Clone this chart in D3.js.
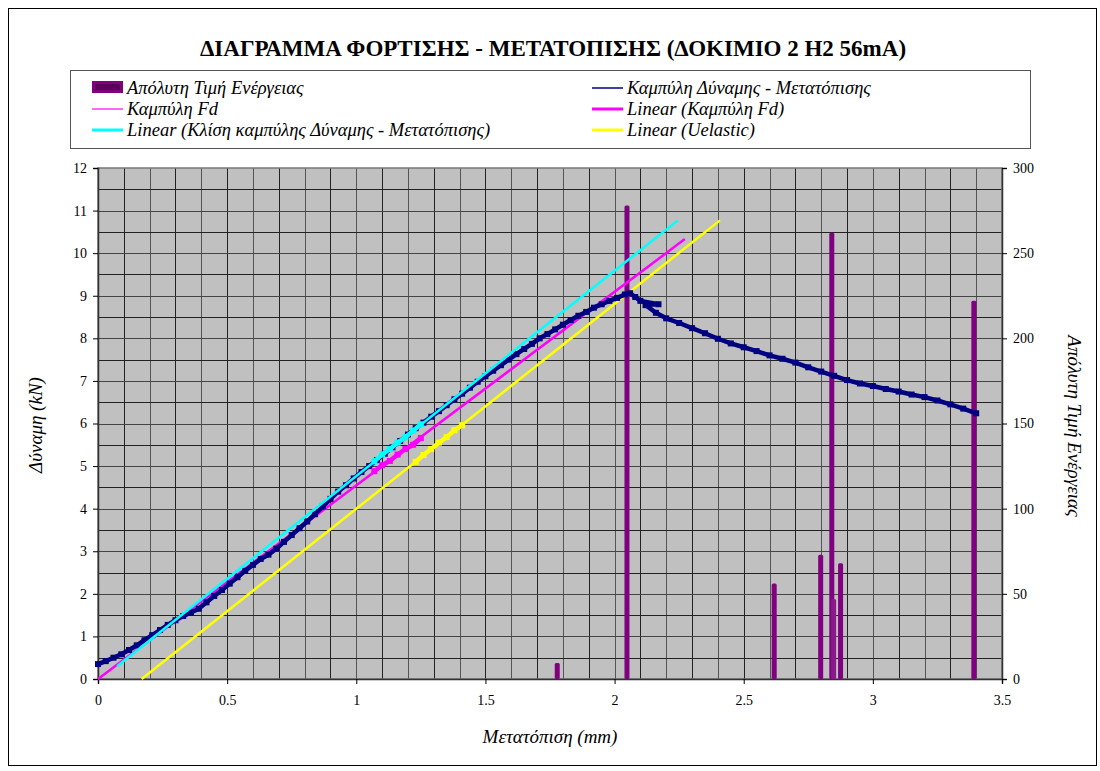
<!DOCTYPE html>
<html><head><meta charset="utf-8">
<script src="https://cdn.jsdelivr.net/npm/d3@7/dist/d3.min.js"></script>
<style>body{margin:0;background:#fff}</style>
</head><body><svg id="c" width="1100" height="771"></svg>
<script>
const FF = "'Liberation Serif'";
// ---- data ----
const xTicks = [0, 0.5, 1, 1.5, 2, 2.5, 3, 3.5];
const yTicks = [0,1,2,3,4,5,6,7,8,9,10,11,12];
const y2Ticks = [0,50,100,150,200,250,300];
const energyX = [1.778, 2.048, 2.618, 2.798, 2.841, 2.848, 2.875, 3.391];
const energyY = [9.4, 278, 56, 73, 262, 47, 68, 222];
const curveX = [0.00,0.03,0.06,0.09,0.12,0.15,0.18,0.21,0.24,0.27,0.30,0.33,0.36,0.39,0.42,0.45,0.48,0.51,0.54,0.57,0.60,0.63,0.66,0.69,0.72,0.75,0.78,0.81,0.84,0.87,0.90,0.93,0.96,0.99,1.02,1.05,1.08,1.11,1.14,1.17,1.20,1.23,1.26,1.29,1.32,1.35,1.38,1.41,1.44,1.47,1.50,1.53,1.56,1.59,1.62,1.65,1.68,1.71,1.74,1.77,1.80,1.83,1.86,1.89,1.92,1.95,1.98,2.01,2.04,2.06,2.08,2.10,2.17,2.12,2.16,2.20,2.25,2.30,2.35,2.40,2.45,2.50,2.55,2.60,2.65,2.70,2.75,2.80,2.85,2.90,2.95,3.00,3.05,3.10,3.15,3.20,3.25,3.30,3.35,3.40];
const curveY = [0.35,0.42,0.50,0.58,0.68,0.79,0.91,1.03,1.15,1.27,1.38,1.48,1.56,1.65,1.80,1.95,2.09,2.24,2.39,2.54,2.68,2.82,2.92,3.06,3.22,3.38,3.54,3.70,3.87,4.05,4.23,4.40,4.55,4.71,4.86,5.00,5.14,5.29,5.44,5.59,5.74,5.89,6.02,6.16,6.29,6.43,6.57,6.70,6.84,6.98,7.11,7.24,7.37,7.50,7.63,7.75,7.87,8.00,8.10,8.21,8.32,8.43,8.53,8.62,8.72,8.80,8.88,8.95,9.03,9.06,8.97,8.88,8.80,8.78,8.60,8.47,8.36,8.24,8.12,7.99,7.88,7.79,7.70,7.60,7.52,7.43,7.32,7.22,7.12,7.02,6.94,6.88,6.81,6.75,6.68,6.62,6.54,6.45,6.35,6.24];
const fdX = [1.07,1.10,1.13,1.16,1.19,1.22,1.25];
const fdY = [4.88,5.02,5.12,5.27,5.40,5.50,5.66];
const slopeX = [1.07,1.10,1.13,1.16,1.19,1.22,1.25];
const slopeY = [5.11,5.27,5.40,5.55,5.68,5.83,5.98];
const uelX = [1.23,1.26,1.29,1.32,1.35,1.38,1.41];
const uelY = [5.10,5.26,5.40,5.55,5.68,5.84,5.96];
const linSlopeX = [0.074, 2.245], linSlopeY = [0.30, 10.77];
const linFdX = [0, 2.272], linFdY = [0, 10.33];
const linUelX = [0.169, 2.408], linUelY = [0, 10.77];
const title = "ΔΙΑΓΡΑΜΜΑ ΦΟΡΤΙΣΗΣ - ΜΕΤΑΤΟΠΙΣΗΣ (ΔΟΚΙΜΙΟ 2 Η2 56mA)";
const legendItems = [
  {label:"Απόλυτη Τιμή Ενέργειας", type:"bar", color:"#800080"},
  {label:"Καμπύλη Δύναμης - Μετατόπισης", type:"line", color:"#000080", w:1.5},
  {label:"Καμπύλη Fd", type:"line", color:"#ff00ff", w:1.2},
  {label:"Linear (Καμπύλη Fd)", type:"line", color:"#ff00ff", w:3},
  {label:"Linear (Κλίση καμπύλης Δύναμης - Μετατόπισης)", type:"line", color:"#00ffff", w:3},
  {label:"Linear (Uelastic)", type:"line", color:"#ffff00", w:3}
];

// ---- layout ----
const svg = d3.select("#c");
const L=98, R=1002, T=168, B=679;
const x = d3.scaleLinear().domain([0,3.5]).range([L,R]);
const y = d3.scaleLinear().domain([0,12]).range([B,T]);
const y2 = d3.scaleLinear().domain([0,300]).range([B,T]);
function fit(sel, base, target, lo, hi){ sel.attr("font-size",base); const w=sel.node().getComputedTextLength(); const s=Math.max(lo,Math.min(hi,base*target/w)); sel.attr("font-size",s); return s; }
const zip=(a,b)=>a.map((v,i)=>[v,b[i]]);
const line = d3.line().x(d=>x(d[0])).y(d=>y(d[1]));

// ===== shapes layer =====
svg.append("rect").attr("x",8.5).attr("y",8.5).attr("width",1088).attr("height",757).attr("fill","#fff").attr("stroke","#000");
const lg = svg.append("g");
lg.append("rect").attr("x",70.5).attr("y",70.5).attr("width",960).attr("height",78).attr("fill","#fff").attr("stroke","#555");
legendItems.forEach((d,i)=>{
  const col=i%2,row=Math.floor(i/2);
  const sx = col? 592:92, ty = 88+row*21;
  if(d.type==="bar"){
    lg.append("rect").attr("x",sx).attr("y",ty-7).attr("width",31).attr("height",12).attr("fill","#800080");
    lg.append("rect").attr("x",sx+3).attr("y",ty-4).attr("width",25).attr("height",6).attr("fill","#5a005a");
  } else {
    lg.append("line").attr("x1",sx).attr("x2",sx+31).attr("y1",ty).attr("y2",ty).attr("stroke",d.color).attr("stroke-width",d.w);
  }
});
svg.append("rect").attr("x",L).attr("y",T).attr("width",R-L).attr("height",B-T).attr("fill","#c0c0c0");
const grid = svg.append("g").attr("stroke-width",1);
d3.range(1,35).forEach(i=>{ const gx=Math.round(x(i/10))+0.5;
  grid.append("line").attr("x1",gx).attr("x2",gx).attr("y1",T).attr("y2",B).attr("stroke", i%2?"#222":"#555");});
d3.range(1,24).forEach(i=>{ const gy=Math.round(y(i/2))+0.5;
  grid.append("line").attr("x1",L).attr("x2",R).attr("y1",gy).attr("y2",gy).attr("stroke", i%2?"#222":"#444");});
svg.append("rect").attr("x",L).attr("y",T).attr("width",R-L).attr("height",B-T).attr("fill","none").attr("stroke","#777").attr("stroke-width",1.5);
// axis lines (labels drawn later)
const axLines = [
  svg.append("g").attr("transform",`translate(0,${B})`).call(d3.axisBottom(x).tickValues(xTicks).tickSize(5)),
  svg.append("g").attr("transform",`translate(${L},0)`).call(d3.axisLeft(y).tickValues(yTicks).tickSize(5)),
  svg.append("g").attr("transform",`translate(${R},0)`).call(d3.axisRight(y2).tickValues(y2Ticks).tickSize(5))];
axLines.forEach(a=>{a.selectAll("text").remove(); a.selectAll("line").attr("stroke","#000");
  a.select(".domain").attr("stroke","#333").attr("stroke-width",1.5);});

const pg = svg.append("g");
pg.selectAll(".bar").data(zip(energyX,energyY)).enter().append("rect")
  .attr("x",d=>x(d[0])-2.5).attr("width",5).attr("y",d=>y2(d[1])).attr("height",d=>B-y2(d[1])).attr("rx",1.5)
  .attr("fill",(d,i)=>i===5?"#8a1a8a":"#800080");
pg.append("path").attr("d",line(zip(linUelX,linUelY))).attr("stroke","#ffff00").attr("stroke-width",2.5).attr("fill","none");
pg.append("path").attr("d",line(zip(linFdX,linFdY))).attr("stroke","#ff00ff").attr("stroke-width",2.5).attr("fill","none");
pg.append("path").attr("d",line(zip(curveX,curveY))).attr("stroke","#000080").attr("stroke-width",4.5).attr("stroke-linejoin","round").attr("fill","none");
pg.selectAll(".mk").data(zip(curveX,curveY)).enter().append("rect").attr("x",d=>x(d[0])-3).attr("y",d=>y(d[1])-3).attr("width",6).attr("height",6).attr("fill","#000080");
pg.append("path").attr("d",line(zip(linSlopeX,linSlopeY))).attr("stroke","#00ffff").attr("stroke-width",2.5).attr("fill","none");
[[fdX,fdY,"#ff00ff"],[slopeX,slopeY,"#00ffff"],[uelX,uelY,"#ffff00"]].forEach(([a,b,c])=>{
  pg.append("path").attr("d",line(zip(a,b))).attr("stroke",c).attr("stroke-width",4.5).attr("fill","none");
  pg.selectAll(null).data(zip(a,b)).enter().append("rect").attr("x",d=>x(d[0])-3).attr("y",d=>y(d[1])-3).attr("width",6).attr("height",6).attr("fill",c);
});

// ===== text layer (last) =====
const tl = svg.append("g").attr("font-family",FF);
const tt = tl.append("text").attr("x",553).attr("y",56).attr("text-anchor","middle").attr("font-family",FF)
  .attr("font-weight","bold").text(title);
fit(tt,21,782,19,23);
const legTexts = legendItems.map((d,i)=>{
  const col=i%2,row=Math.floor(i/2);
  const sx = col? 592:92, ty = 88+row*21;
  return tl.append("text").attr("x",sx+35).attr("y",ty+6).attr("font-family",FF).attr("font-style","italic").text(d.label);
});
const lgSize = fit(legTexts[4],18,418,15,18.5);
legTexts.forEach(t=>t.attr("font-size",lgSize));

const axLabels = [
  tl.append("g").attr("transform",`translate(0,${B})`).call(d3.axisBottom(x).tickValues(xTicks).tickFormat(d3.format("")).tickSize(5).tickPadding(8)),
  tl.append("g").attr("transform",`translate(${L},0)`).call(d3.axisLeft(y).tickValues(yTicks).tickSize(5).tickPadding(6)),
  tl.append("g").attr("transform",`translate(${R},0)`).call(d3.axisRight(y2).tickValues(y2Ticks).tickSize(5).tickPadding(6))];
axLabels.forEach(a=>{a.attr("font-family",FF).attr("font-size",14);
  a.select(".domain").remove(); a.selectAll("line").remove();
  a.selectAll("text").attr("fill","#000").attr("font-family",FF);});
axLabels[0].selectAll("text").attr("dy","0.9em");

fit(tl.append("text").attr("x",550).attr("y",743).attr("text-anchor","middle").attr("font-family",FF).attr("font-style","italic").text("Μετατόπιση (mm)"),18,154,15,19);
fit(tl.append("text").attr("transform","translate(42,425) rotate(-90)").attr("text-anchor","middle").attr("font-family",FF).attr("font-style","italic").text("Δύναμη (kN)"),18,106,15,19);
fit(tl.append("text").attr("transform","translate(1068,426) rotate(90)").attr("text-anchor","middle").attr("font-family",FF).attr("font-style","italic").text("Απόλυτη Τιμή Ενέργειας"),18,208,15,19);
</script></body></html>
